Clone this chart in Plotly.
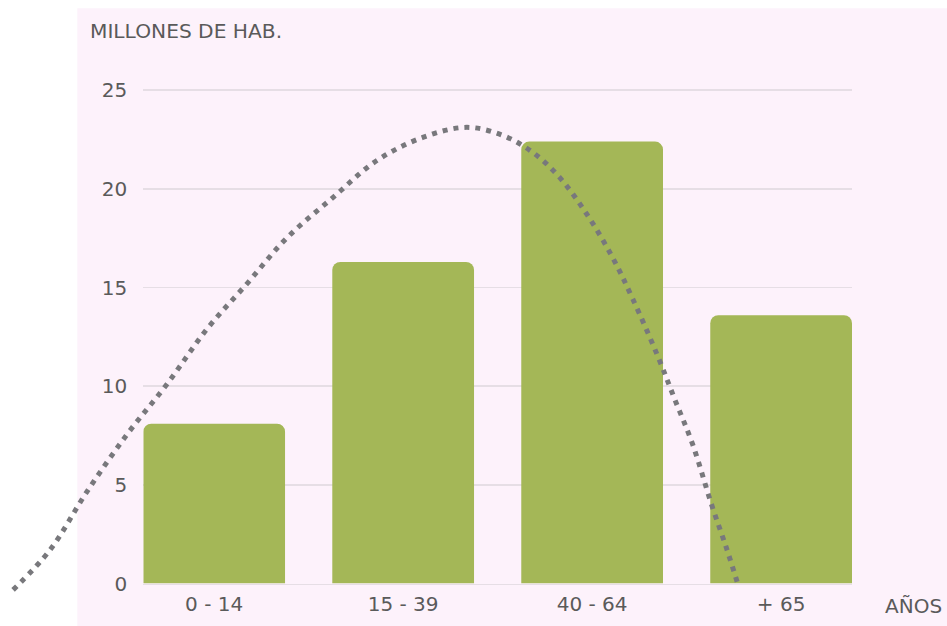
import plotly.graph_objects as go

# ---- data ----
categories = ["0 - 14", "15 - 39", "40 - 64", "+ 65"]
population = [8.1, 16.3, 22.4, 13.6]  # millones de habitantes

# decorative trend curve (x in category-index units, y in millions)
curve_x = [-1.064, -0.868, -0.673, -0.461, -0.250, -0.038, 0.173, 0.385, 0.628,
           0.861, 1.104, 1.337, 1.527, 1.686, 1.829, 1.977, 2.109, 2.215, 2.347,
           2.437, 2.532, 2.632, 2.712, 2.770]
curve_y = [-0.32, 1.71, 4.66, 7.56, 10.10, 12.90, 15.19, 17.52, 19.56,
           21.44, 22.61, 23.12, 22.71, 21.85, 20.57, 18.64, 16.51, 14.42, 11.53,
           9.34, 7.05, 4.00, 1.76, 0.0]

y_ticks = [0, 5, 10, 15, 20, 25]

# ---- layout geometry ----
# positions are given in target-picture pixels; the captured page is a bit
# taller than the picture, so vertical positions are stretched by 1/S.
W, H = 947, 640
S = 626 / H


def fx(px):
    return px / W


def fy(py):
    return 1 - (py / S) / H


plot_left, plot_right = 143.3, 852.0
plot_bottom = 581.7
px_per_y = 19.67
x_range = [-0.375, 3.375]
y_range = [0, 26]
px_per_x = (plot_right - plot_left) / (x_range[1] - x_range[0])
plot_top = plot_bottom - (y_range[1] - y_range[0]) * px_per_y

# full-figure axis ranges for the overlay curve (same scale as the bars)
x2_range = [x_range[0] - plot_left / px_per_x,
            x_range[0] + (W - plot_left) / px_per_x]
y2_range = [(plot_bottom - H * S) / px_per_y, plot_bottom / px_per_y]

TXT = "#5a5a5a"
GRID = "#e6dee5"
FONT = "DejaVu Sans"

fig = go.Figure()
fig.add_trace(go.Bar(
    x=categories, y=population,
    marker=dict(color="#a4b757", line=dict(width=0)),
    xaxis="x", yaxis="y", hoverinfo="skip",
))
fig.add_trace(go.Scatter(
    x=curve_x, y=curve_y, mode="lines", line_shape="spline",
    line=dict(color="#78787c", width=5, dash="5px,6px"),
    xaxis="x2", yaxis="y2", hoverinfo="skip",
))

fig.update_layout(
    width=W, height=H,
    margin=dict(l=0, r=0, t=0, b=0),
    paper_bgcolor="white",
    plot_bgcolor="rgba(0,0,0,0)",
    showlegend=False,
    bargap=0.25,
    barcornerradius=8,
    font=dict(family=FONT, color=TXT, size=20),
    xaxis=dict(
        type="category", range=x_range,
        domain=[fx(plot_left), fx(plot_right)],
        showgrid=False, zeroline=False,
        showline=True, linecolor=GRID, linewidth=1.5,
        ticks="", ticklabelstandoff=2,
        tickfont=dict(family=FONT, size=20, color=TXT),
        anchor="y",
    ),
    yaxis=dict(
        range=y_range,
        domain=[fy(plot_bottom), fy(plot_top)],
        tickvals=y_ticks,
        showgrid=True, gridcolor=GRID, gridwidth=1.5,
        zeroline=False, showline=False,
        ticks="", ticklabelstandoff=15,
        tickfont=dict(family=FONT, size=20, color=TXT),
        anchor="x",
    ),
    xaxis2=dict(range=x2_range, domain=[0, 1], visible=False, anchor="y2",
                fixedrange=True),
    yaxis2=dict(range=y2_range, domain=[0, 1], visible=False, anchor="x2",
                fixedrange=True),
    shapes=[dict(type="rect", xref="paper", yref="paper",
                 x0=fx(77.3), x1=1, y0=0, y1=fy(8.3),
                 fillcolor="#fdf2fb", line=dict(width=0), layer="below")],
    annotations=[
        dict(text="MILLONES DE HAB.", xref="paper", yref="paper",
             x=fx(88), y=fy(31), xanchor="left", yanchor="middle",
             showarrow=False,
             font=dict(family=FONT, size=20.2, color=TXT)),
        dict(text="AÑOS", xref="paper", yref="paper",
             x=fx(944), y=fy(604.5), xanchor="right", yanchor="middle",
             showarrow=False,
             font=dict(family=FONT, size=20, color=TXT)),
    ],
)

fig.write_html(
    "out.html",
    config={"displayModeBar": False, "staticPlot": True},
    post_script=(
        "document.documentElement.style.margin='0';"
        "document.documentElement.style.overflow='hidden';"
        "document.body.style.margin='0';"
        "document.body.style.overflow='hidden';"
    ),
)
